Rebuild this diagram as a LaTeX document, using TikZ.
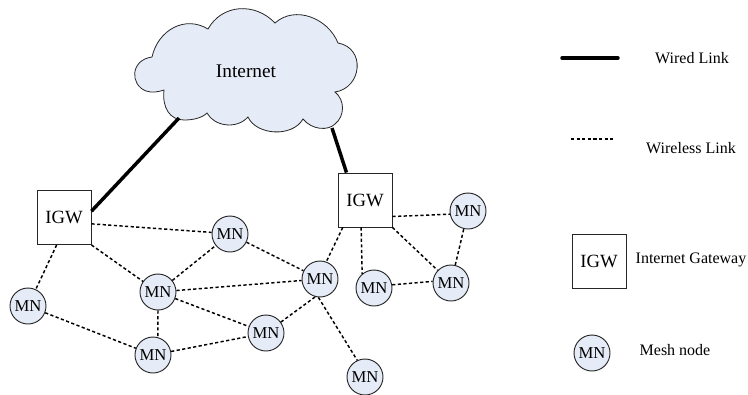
\documentclass[tikz,border=0pt]{standalone}
\usepackage{fontspec}
\setmainfont{Liberation Serif}
\definecolor{nodeblue}{HTML}{E6ECF7}
\tikzset{
    meshnode/.style={circle,draw=black!85,line width=.7pt,fill=nodeblue,minimum size=27pt,inner sep=0pt,font=\fontsize{12.5}{14}\selectfont},
    gateway/.style={rectangle,draw=black!85,line width=.7pt,fill=white,minimum size=40.5pt,inner sep=0pt,font=\fontsize{14}{16}\selectfont},
    wiredlink/.style={line width=2.6pt},
    wirelesslink/.style={line width=1.1pt,dash pattern=on 2.4pt off 1.8pt},
    legendtext/.style={font=\fontsize{12}{14}\selectfont}
}
\begin{document}
\begin{tikzpicture}[x=.75pt,y=-.75pt]
    \useasboundingbox (0,0) rectangle (748,394);

    \draw[draw=black!85,line width=.6pt,fill=nodeblue]
    (152,57) ..
    controls (130,60) and (130,85) .. (146,91) ..
    controls (152,93) and (158,92) .. (164,90) ..
    controls (162,108) and (170,120) .. (184,120) ..
    controls (193,120) and (202,118) .. (207,113) ..
    controls (214,126) and (236,130) .. (248,117) ..
    controls (256,135) and (292,138) .. (303,119) ..
    controls (312,130) and (328,131) .. (335,124) ..
    controls (345,116) and (345,100) .. (335,92) ..
    controls (362,88) and (366,48) .. (338,43) ..
    controls (328,18) and (295,5) .. (275,23) ..
    controls (255,2) and (222,4) .. (208,29) ..
    controls (185,15) and (158,30) .. (152,57) -- cycle;
    \node (net) at (246,71) {\fontsize{14.5}{16}\selectfont Internet};
    \coordinate (netL) at (179,118);
    \coordinate (netR) at (332,128);

    \node[gateway] (igwA) at (64,217.5) {IGW};
    \node[gateway] (igwB) at (365,200) {IGW};

    \foreach \name/\x/\y in {mnA/28/306,mnB/158/292,mnC/230/234,mnD/153/355,mnE/266/333,
      mnF/320/279,mnG/374/288,mnH/451/283,mnI/468/211,mnJ/365/377} {
      \node[meshnode] (\name) at (\x,\y) {MN};
    }

    \draw[wiredlink] (netL) -- (igwA.13);
    \draw[wiredlink] (netR) -- (igwB.124);

    \foreach \a/\b in {igwA.-13/mnC.175,igwA.south east/mnB,igwA.-105/mnA,mnA/mnD,mnB/mnC,mnB.-90/mnD.75,
      mnB/mnE,mnB/mnF,mnD/mnE,mnC/mnF,mnE/mnF.-105,mnF.-95/mnJ.115,igwB.-129/mnF.70,igwB.-98/mnG.130,
      igwB.south east/mnH,igwB.-31/mnI.190,mnG.10/mnH.175,mnH/mnI} {
      \draw[wirelesslink] (\a) -- (\b);
    }

    % legend
    \coordinate (wiredA) at (562,58);
    \coordinate (wiredB) at (618,58);
    \coordinate (wirelessA) at (571,139);
    \coordinate (wirelessB) at (615,139);
    \draw[wiredlink,line cap=round] (wiredA) -- (wiredB);
    \draw[wirelesslink] (wirelessA) -- (wirelessB);
    \node[gateway] (igwKey) at (599,261) {IGW};
    \node[meshnode] (mnKey) at (592,353) {MN};
    \node[legendtext] (wiredText) at (692,58) {Wired Link};
    \node[legendtext] (wirelessText) at (691,148) {Wireless Link};
    \node[legendtext] (igwText) at (691,260) {Internet Gateway};
    \node[legendtext] (mnText) at (675,350) {Mesh node};
\end{tikzpicture}
\end{document}
